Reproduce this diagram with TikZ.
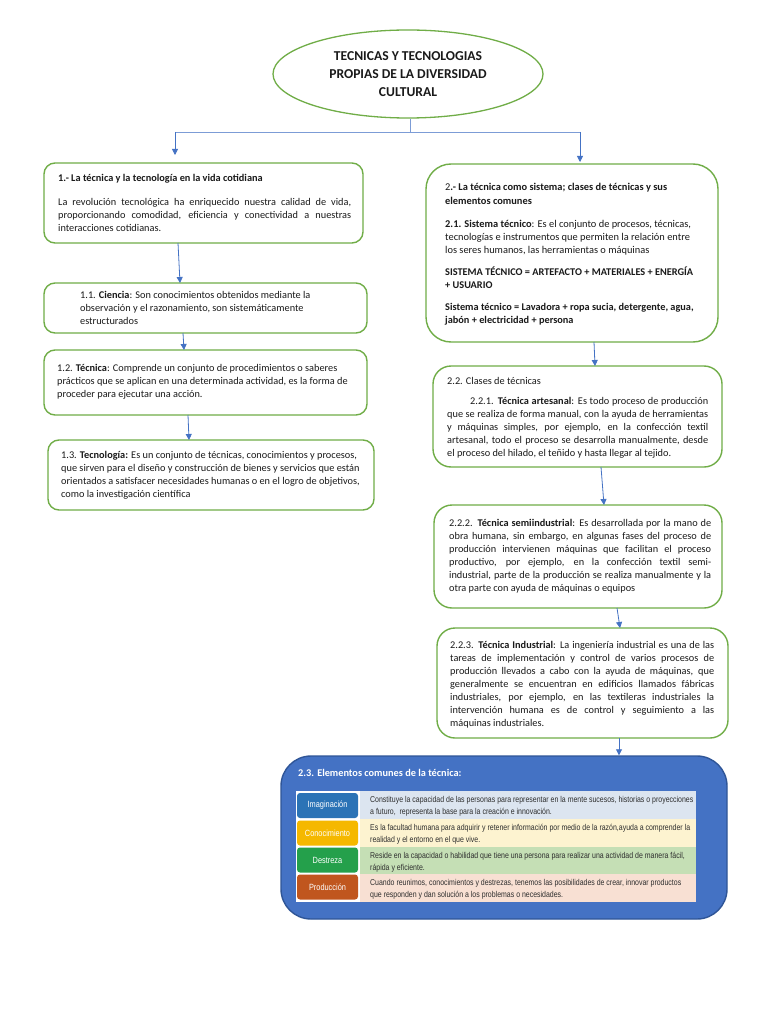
\documentclass[tikz,border=0pt]{standalone}
\usepackage{fontspec}
\setmainfont{Carlito}
\newfontfamily\tabfont[FakeStretch=0.82]{Liberation Sans}
\usetikzlibrary{arrows.meta,shapes.geometric}
\definecolor{boxgreen}{HTML}{70AD47}
\definecolor{arrblue}{HTML}{4472C4}
\definecolor{panelblue}{HTML}{4472C4}
\definecolor{paneledge}{HTML}{2F5597}
\definecolor{textc}{HTML}{1A1A1A}
\definecolor{tabtext}{HTML}{2E2E2E}
\definecolor{imgc}{HTML}{2B73B6}
\definecolor{conc}{HTML}{F5B800}
\definecolor{desc}{HTML}{24A04B}
\definecolor{proc}{HTML}{C0561E}
\definecolor{imgbg}{HTML}{DCE5F0}
\definecolor{conbg}{HTML}{FDF3D0}
\definecolor{desbg}{HTML}{C5DFB5}
\definecolor{probg}{HTML}{F8E0D3}
\newcommand\J[2]{\makebox[#1pt][s]{#2}}
\newcommand\bodyf{\fontsize{10.3}{13}\selectfont}
\newcommand\sysf{\fontsize{10.4}{13}\selectfont}
\begin{document}
\begin{tikzpicture}[x=1pt,y=-1pt,
  gbox/.style={draw=boxgreen, line width=1.4pt, fill=white, rounded corners=#1, inner sep=0pt, outer sep=0pt},
  gbox/.default=11pt,
  arr/.style={draw=arrblue, line width=0.8pt, -{Triangle[length=6pt,width=6pt]}},
  conn/.style={draw=arrblue!70, line width=0.8pt},
  txt/.style={anchor=north west, inner sep=0pt, align=left, font=\bodyf, text=textc},
  lab/.style={rounded corners=3pt, inner sep=0pt, minimum width=61pt, minimum height=25pt, text=white, font=\tabfont\fontsize{9}{10}\selectfont},
  rowtxt/.style={anchor=north west, inner sep=0pt, align=left, text=tabtext, font=\tabfont\fontsize{8.5}{12.5}\selectfont},
]
\useasboundingbox (0,0) rectangle (768,1024);
\fill[white] (0,0) rectangle (768,1024);

% title
\node[draw=boxgreen, line width=1.3pt, ellipse, minimum width=270pt, minimum height=88pt, inner sep=0pt,
      align=center, font=\bfseries\fontsize{13.6}{18}\selectfont, text=textc] (title) at (408,74)
  {TECNICAS Y TECNOLOGIAS\\PROPIAS DE LA DIVERSIDAD\\CULTURAL};

% boxes
\node[gbox, minimum width=319pt, minimum height=80pt] (b1) at (203.5,203) {};
\node[gbox, minimum width=323pt, minimum height=50pt] (b11) at (205.5,308) {};
\node[gbox, minimum width=323pt, minimum height=65pt] (b12) at (205.5,382.5) {};
\node[gbox, minimum width=326pt, minimum height=70pt] (b13) at (211,475) {};
\node[gbox=25pt, minimum width=292pt, minimum height=178pt] (b2) at (572,253) {};
\node[gbox=18pt, minimum width=289pt, minimum height=101pt] (b22) at (577.5,416.5) {};
\node[gbox=18pt, minimum width=288pt, minimum height=103pt] (b222) at (578,556.5) {};
\node[gbox=18pt, minimum width=291pt, minimum height=110pt] (b223) at (582.5,683) {};
\node[draw=paneledge, fill=panelblue, line width=1.4pt, rounded corners=30pt, inner sep=0pt,
      minimum width=446pt, minimum height=163pt] (b23) at (504,837.5) {};

% top connectors
\coordinate (jn) at (410,132);
\coordinate (jl) at (175,132);
\coordinate (jr) at (580,132);
\draw[conn] (title.south -| jn) -- (jn);
\draw[conn] (jl) -- (jr);
\draw[arr] (jl) -- ([yshift=8pt]b1.north -| jl);
\draw[arr] (jr) -- ([yshift=2pt]b2.north -| jr);

% box connectors
\draw[arr] (b1.south -| 178,0) -- (b11.north -| 180,0);
\draw[arr] (b11.south -| 183,0) -- (b12.north -| 184,0);
\draw[arr] (b12.south -| 188,0) -- (b13.north -| 189,0);
\draw[arr] (b2.south -| 594,0) -- (b22.north -| 595,0);
\draw[arr] (b22.south -| 601,0) -- (b222.north -| 604,0);
\draw[arr] (b222.south -| 617,0) -- (b223.north -| 620,0);
\draw[arr] (b223.south -| 619,0) -- (b23.north -| 619,0);

% texts left
\node[txt] (t1a) at (58,174.5) {\bfseries 1.- La técnica y la tecnología en la vida cotidiana};
\node[txt] (t1b) at (58,198.5) {\J{293}{La revolución tecnológica ha enriquecido nuestra calidad de vida,}\\
  \J{293}{proporcionando comodidad, eficiencia y conectividad a nuestras}\\
  interacciones cotidianas.};
\node[txt] (t11) at (80,291.5) {1.1. \textbf{Ciencia}: Son conocimientos obtenidos mediante la\\
  observación y el razonamiento, son sistemáticamente\\ estructurados};
\node[txt] (t12) at (57,364.5) {1.2. \textbf{Técnica}: Comprende un conjunto de procedimientos o saberes\\
  prácticos que se aplican en una determinada actividad, es la forma de\\
  proceder para ejecutar una acción.};
\node[txt] (t13) at (61,451) {1.3. \textbf{Tecnología:} Es un conjunto de técnicas, conocimientos y procesos,\\
  que sirven para el diseño y construcción de bienes y servicios que están\\
  orientados a satisfacer necesidades humanas o en el logro de objetivos,\\
  como la investigación científica};

% texts right
\node[txt, font=\fontsize{10.4}{14}\selectfont] (t2a) at (445,183.5) {2\textbf{.- La técnica como sistema; clases de técnicas y sus}\\ \textbf{elementos comunes}};
\node[txt, font=\sysf] (t2b) at (445,220) {\textbf{2.1. Sistema técnico}: Es el conjunto de procesos, técnicas,\\
  tecnologías e instrumentos que permiten la relación entre\\
  los seres humanos, las herramientas o máquinas};
\node[txt, font=\bfseries\bodyf] (t2c) at (445,267) {SISTEMA TÉCNICO = ARTEFACTO + MATERIALES + ENERGÍA\\ + USUARIO};
\node[txt, font=\bfseries\bodyf] (t2d) at (445,303) {Sistema técnico = Lavadora + ropa sucia, detergente, agua,\\ jabón + electricidad + persona};

\node[txt] (t22a) at (447,377) {2.2. Clases de técnicas};
\node[txt] (t22b) at (447,397.5) {\hspace*{23pt}\J{238}{2.2.1. \textbf{Técnica artesanal}: Es todo proceso de producción}\\
  \J{261}{que se realiza de forma manual, con la ayuda de herramientas}\\
  \J{261}{y máquinas simples, por ejemplo, en la confección textil}\\
  \J{261}{artesanal, todo el proceso se desarrolla manualmente, desde}\\
  el proceso del hilado, el teñido y hasta llegar al tejido.};
\node[txt] (t222) at (449,519.5) {\J{262}{2.2.2. \textbf{Técnica semiindustrial}: Es desarrollada por la mano de}\\
  \J{262}{obra humana, sin embargo, en algunas fases del proceso de}\\
  \J{262}{producción intervienen máquinas que facilitan el proceso}\\
  \J{262}{productivo, por ejemplo, en la confección textil semi-}\\
  \J{262}{industrial, parte de la producción se realiza manualmente y la}\\
  otra parte con ayuda de máquinas o equipos};
\node[txt] (t223) at (450,641.5) {\J{264}{2.2.3. \textbf{Técnica Industrial}: La ingeniería industrial es una de las}\\
  \J{264}{tareas de implementación y control de varios procesos de}\\
  \J{264}{producción llevados a cabo con la ayuda de máquinas, que}\\
  \J{264}{generalmente se encuentran en edificios llamados fábricas}\\
  \J{264}{industriales, por ejemplo, en las textileras industriales la}\\
  \J{264}{intervención humana es de control y seguimiento a las}\\
  máquinas industriales.};

% panel 2.3
\node[txt, text=white, font=\bfseries\fontsize{10.3}{12}\selectfont] (t23) at (298,769.5) {2.3. Elementos comunes de la técnica:};
\fill[white] (296,791) rectangle (696,902);
\fill[imgbg] (360,791) rectangle (696,819);
\fill[conbg] (360,819) rectangle (696,847);
\fill[desbg] (360,847) rectangle (696,874);
\fill[probg] (360,874) rectangle (696,902);
\node[lab, fill=imgc] (l1) at (327.5,805.5) {Imaginación};
\node[lab, fill=conc] (l2) at (327.5,833) {Conocimiento};
\node[lab, fill=desc] (l3) at (327.5,860) {Destreza};
\node[lab, fill=proc] (l4) at (327.5,887) {Producción};
\node[rowtxt] (r1) at (370,796) {Constituye la capacidad de las personas para representar en la mente sucesos, historias o proyecciones\\ a futuro,\ \ representa la base para la creación e innovación.};
\node[rowtxt] (r2) at (370,824) {Es la facultad humana para adquirir y retener información por medio de la razón,ayuda a comprender la\\ realidad y el entorno en el que vive.};
\node[rowtxt] (r3) at (370,852) {Reside en la capacidad o habilidad que tiene una persona para realizar una actividad de manera fácil,\\ rápida y eficiente.};
\node[rowtxt] (r4) at (370,879) {Cuando reunimos, conocimientos y destrezas, tenemos las posibilidades de crear, innovar productos\\ que responden y dan solución a los problemas o necesidades.};
\end{tikzpicture}
\end{document}
